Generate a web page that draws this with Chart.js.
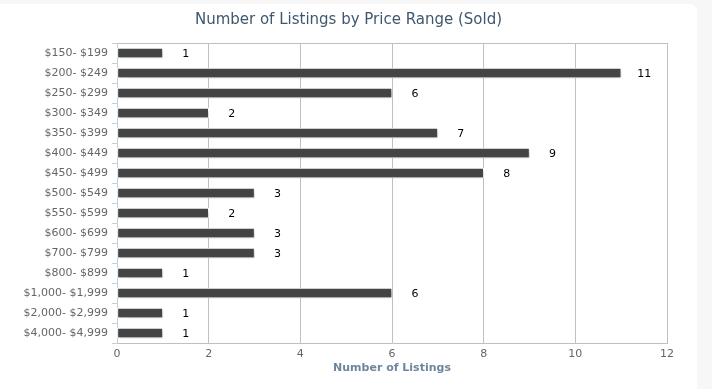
<!DOCTYPE html>
<html>
<head>
<meta charset="utf-8">
<script src="https://cdn.jsdelivr.net/npm/chart.js@4"></script>
<style>
  html, body { margin: 0; padding: 0; background: #f7f7f7; }
  #card { position: absolute; left: 0; top: 4px; width: 697px; height: 385px; background: #fff; border-top-right-radius: 8px; }
  #wrap { width: 697px; height: 385px; }
</style>
</head>
<body>
<div id="card"><div id="wrap"><canvas id="myChart"></canvas></div></div>
<script>
  // categorias y valores
  const rangos = ['$150- $199', '$200- $249', '$250- $299', '$300- $349', '$350- $399', '$400- $449',
    '$450- $499', '$500- $549', '$550- $599', '$600- $699', '$700- $799', '$800- $899',
    '$1,000- $1,999', '$2,000- $2,999', '$4,000- $4,999'];
  const listados = [1, 11, 6, 2, 7, 9, 8, 3, 2, 3, 3, 1, 6, 1, 1];
  const ticksX = [0, 2, 4, 6, 8, 10, 12];

  const fuente = "'DejaVu Sans', Verdana, sans-serif";

  // sombra de las barras (como highcharts)
  const sombraBarras = {
    id: 'sombraBarras',
    beforeDatasetsDraw(chart) {
      const ctx = chart.ctx;
      ctx.save();
      ctx.shadowColor = 'rgba(0,0,0,0.25)';
      ctx.shadowOffsetX = 1;
      ctx.shadowOffsetY = 2;
      ctx.shadowBlur = 3;
    },
    afterDatasetsDraw(chart) {
      chart.ctx.restore();
    }
  };

  // etiquetas de valor al final de cada barra
  const etiquetas = {
    id: 'etiquetas',
    afterDraw(chart) {
      const ctx = chart.ctx;
      const meta = chart.getDatasetMeta(0);
      ctx.save();
      ctx.font = '11px ' + fuente;
      ctx.fillStyle = '#000';
      ctx.textAlign = 'center';
      ctx.textBaseline = 'middle';
      meta.data.forEach((bar, i) => {
        ctx.fillText(String(listados[i]), bar.x + 23, bar.y + 1);
      });
      ctx.restore();
    }
  };

  const ctx = document.getElementById('myChart');
  new Chart(ctx, {
    type: 'bar',
    data: {
      labels: rangos,
      datasets: [{
        data: listados,
        backgroundColor: '#444444',
        borderColor: '#ffffff',
        borderWidth: 1,
        borderSkipped: false,
        barThickness: 10
      }]
    },
    options: {
      indexAxis: 'y',
      responsive: true,
      maintainAspectRatio: false,
      animation: false,
      layout: { padding: 0 },
      scales: {
        x: {
          min: 0,
          max: 12,
          afterBuildTicks(scale) {
            scale.ticks = ticksX.map(v => ({ value: v }));
          },
          grid: { color: '#c0c0c0', drawTicks: false },
          border: { color: '#c0c0c0' },
          ticks: { color: '#666', font: { family: fuente, size: 11 }, padding: 5 },
          title: {
            display: true,
            text: 'Number of Listings',
            color: '#6d869f',
            font: { family: fuente, size: 11, weight: 'bold' },
            padding: { top: 0, bottom: 14 }
          },
          afterFit(scale) { scale.height = 46; }
        },
        x2: {
          position: 'top',
          min: 0,
          max: 12,
          grid: { display: false, drawTicks: false },
          border: { color: '#c0c0c0' },
          ticks: { display: false },
          afterFit(scale) { scale.height = 0; }
        },
        y: {
          grid: { drawOnChartArea: false, drawTicks: true, tickLength: 5, color: '#c0d0e0', offset: true },
          border: { color: '#c0d0e0' },
          ticks: { color: '#666', font: { family: fuente, size: 11 }, padding: 4 },
          afterFit(scale) { scale.width = 117; }
        },
        // eje vacio a la derecha, solo para dejar el margen y centrar el titulo
        yDer: {
          position: 'right',
          type: 'linear',
          grid: { display: false, drawTicks: false },
          border: { display: false },
          ticks: { display: false },
          afterFit(scale) { scale.width = 30; }
        }
      },
      plugins: {
        legend: { display: false },
        tooltip: { enabled: false },
        title: {
          display: true,
          text: 'Number of Listings by Price Range (Sold)',
          color: '#3e576f',
          font: { family: fuente, size: 15, weight: 'normal' },
          padding: { top: 7, bottom: 14 }
        }
      }
    },
    plugins: [sombraBarras, etiquetas]
  });
</script>
</body>
</html>
